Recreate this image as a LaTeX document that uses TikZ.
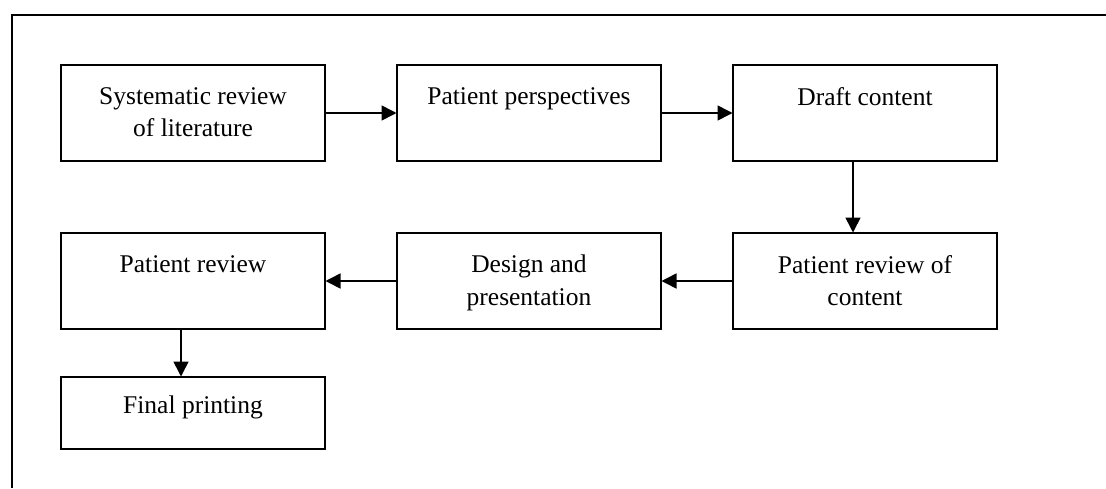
\documentclass[tikz,border=0pt]{standalone}
\usepackage{fontspec}
\setmainfont{Liberation Serif}
\usetikzlibrary{arrows.meta}
\begin{document}
\begin{tikzpicture}[x=1pt,y=-1pt,
  box/.style={draw=black, line width=2pt, minimum width=264pt, inner sep=0pt, outer sep=0pt},
  txt/.style={anchor=north, inner sep=0pt, align=center, font=\fontsize{25.5}{32.5}\selectfont},
  conn/.style={line width=1.6pt, -{Triangle[length=15pt,width=15pt]}, shorten >=0.5pt},
  frame/.style={line width=2pt}]
\useasboundingbox (0,0) rectangle (1106,488);
\coordinate (ftr) at (1106,15);
\coordinate (ftl) at (12,15);
\coordinate (fbl) at (12,488);
\draw[frame] (ftr) -- (ftl) -- (fbl);
% row 1
\node[box, minimum height=96pt] (b1) at (193,113) {};
\node[box, minimum height=96pt] (b2) at (529,113) {};
\node[box, minimum height=96pt] (b3) at (865,113) {};
% row 2
\node[box, minimum height=96pt] (b4) at (193,281) {};
\node[box, minimum height=96pt] (b5) at (529,281) {};
\node[box, minimum height=96pt] (b6) at (865,281) {};
% row 3
\node[box, minimum height=72pt] (b7) at (193,413) {};
% texts
\node[txt] (t1) at ([yshift=-22pt]b1.north) {Systematic review\\of literature};
\node[txt] (t2) at ([yshift=-22pt]b2.north) {Patient perspectives};
\node[txt] (t3) at ([yshift=-22pt]b3.north) {Draft content};
\node[txt] (t4) at ([yshift=-22pt]b4.north) {Patient review};
\node[txt] (t5) at ([yshift=-22pt]b5.north) {Design and\\presentation};
\node[txt] (t6) at ([yshift=-22pt]b6.north) {Patient review of\\content};
\node[txt] (t7) at ([yshift=-19pt]b7.north) {Final printing};
% connectors
\draw[conn] (b1.east) -- (b2.west);
\draw[conn] (b2.east) -- (b3.west);
\draw[conn] ([xshift=-12pt]b3.south) -- ([xshift=-12pt]b6.north);
\draw[conn] (b6.west) -- (b5.east);
\draw[conn] (b5.west) -- (b4.east);
\draw[conn] ([xshift=-12pt]b4.south) -- ([xshift=-12pt]b7.north);
\end{tikzpicture}
\end{document}
